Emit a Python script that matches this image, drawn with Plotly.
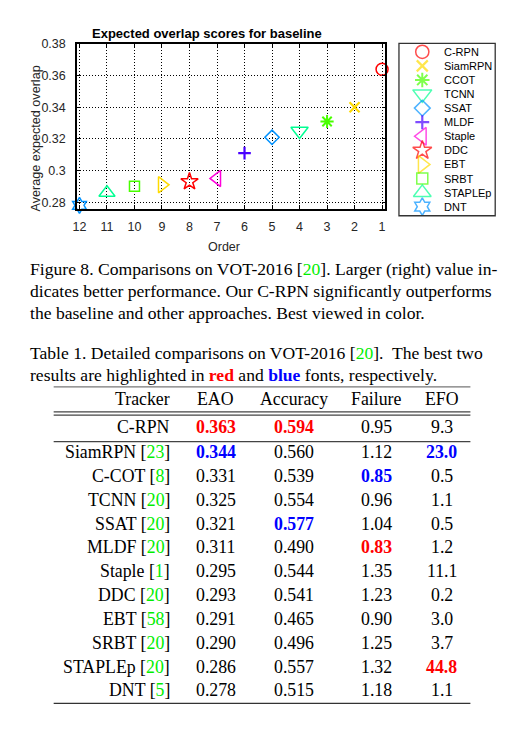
import plotly.graph_objects as go

# the page puts the figure 8px in from the top-left corner of the window
OFF = 8
WIN_W, WIN_H = 522, 731
W, H = WIN_W - OFF, WIN_H - OFF

# ---- data ----
legend_names = ['C-RPN', 'SiamRPN', 'CCOT', 'TCNN', 'SSAT', 'MLDF', 'Staple',
                'DDC', 'EBT', 'SRBT', 'STAPLEp', 'DNT']
order = [1, 2, 3, 4, 5, 6, 7, 8, 9, 10, 11, 12]
chart_eao = [0.364, 0.340, 0.331, 0.325, 0.321, 0.311, 0.295, 0.293, 0.291,
             0.290, 0.286, 0.278]

trackers = ['C-RPN', 'SiamRPN', 'C-COT', 'TCNN', 'SSAT', 'MLDF', 'Staple',
            'DDC', 'EBT', 'SRBT', 'STAPLEp', 'DNT']
refs = ['', '23', '8', '20', '20', '20', '1', '20', '58', '20', '20', '5']
eao = ['0.363', '0.344', '0.331', '0.325', '0.321', '0.311', '0.295', '0.293',
       '0.291', '0.290', '0.286', '0.278']
accuracy = ['0.594', '0.560', '0.539', '0.554', '0.577', '0.490', '0.544',
            '0.541', '0.465', '0.496', '0.557', '0.515']
failure = ['0.95', '1.12', '0.85', '0.96', '1.04', '0.83', '1.35', '1.23',
           '0.90', '1.25', '1.32', '1.18']
efo = ['9.3', '23.0', '0.5', '1.1', '0.5', '1.2', '11.1', '0.2', '3.0', '3.7',
       '44.8', '1.1']
# best (1 = red) / second best (2 = blue) per column
eao_rank = [1, 2, 0, 0, 0, 0, 0, 0, 0, 0, 0, 0]
acc_rank = [1, 0, 0, 0, 2, 0, 0, 0, 0, 0, 0, 0]
fail_rank = [0, 0, 2, 0, 0, 1, 0, 0, 0, 0, 0, 0]
efo_rank = [0, 2, 0, 0, 0, 0, 0, 0, 0, 0, 1, 0]
headers = ['Tracker', 'EAO', 'Accuracy', 'Failure', 'EFO']

# ---- style ----
colors = ['#ff0000', '#ffdb00', '#49ff00', '#00ff92', '#0092ff', '#4900ff',
          '#ff00db', '#ff0000', '#ffdb00', '#49ff00', '#00ff92', '#0092ff']
symbols = ['circle-open', 'x-thin-open', 'asterisk-open', 'triangle-down-open',
           'diamond-open', 'cross-thin-open', 'triangle-left-open', 'star-open',
           'triangle-right-open', 'square-open', 'triangle-up-open',
           'hexagram-open']
sizes = [12, 10, 11, 15, 11, 9, 14, 13, 14, 10, 14, 12]
widths = [1.5, 2.2, 2, 1.5, 1.5, 2.2, 1.5, 1.5, 1.5, 1.5, 1.5, 1.5]

SANS = 'Liberation Sans'
SERIF = 'Liberation Serif'
CAP = 17.6   # caption text
TXT = 17.8   # table text
GREEN = '#00ee00'
RANK_COLOR = {1: '#ff0000', 2: '#0000ff'}


def dom_x(a, b):
    return [(a - OFF) / W, (b - OFF) / W]


def dom_y(top, bottom):
    return [1 - (bottom - OFF) / H, 1 - (top - OFF) / H]


fig = go.Figure()

# main chart
for i in range(len(order)):
    fig.add_trace(go.Scatter(
        x=[order[i]], y=[chart_eao[i]], mode='markers', cliponaxis=False,
        marker=dict(symbol=symbols[i], size=sizes[i], color=colors[i],
                    line=dict(color=colors[i], width=widths[i])),
        showlegend=False))

# hand-made legend on the window-pixel overlay axes
leg_y = [45.2 + 14.24 * i for i in range(len(legend_names))]
fig.add_trace(go.Scatter(
    x=[421.5] * len(legend_names), y=leg_y, mode='markers', xaxis='x2', yaxis='y2',
    cliponaxis=False,
    marker=dict(symbol=symbols, size=[s * 1.1 for s in sizes], color=colors,
                line=dict(color=colors, width=widths)),
    showlegend=False))

ann = []
for i, name in enumerate(legend_names):
    ann.append(dict(x=441, y=leg_y[i], text=name, xref='x2', yref='y2',
                    xanchor='left', yanchor='middle', showarrow=False,
                    font=dict(family=SANS, size=11, color='black')))

# chart labels
ann.append(dict(x=204.5, y=27, text='<b>Expected overlap scores for baseline</b>',
                xref='x2', yref='y2', showarrow=False, xanchor='center',
                yanchor='middle', font=dict(family=SANS, size=13, color='black')))
ann.append(dict(x=221.5, y=243, text='Order', xref='x2', yref='y2',
                showarrow=False, xanchor='center', yanchor='middle',
                font=dict(family=SANS, size=12.5, color='#262626')))
ann.append(dict(x=32, y=133, text='Average expected overlap', xref='x2', yref='y2',
                showarrow=False, textangle=-90, xanchor='center', yanchor='middle',
                font=dict(family=SANS, size=12.6, color='#262626')))


# captions
def cite(n):
    return "[<span style='color:%s'>%s</span>]" % (GREEN, n)


caption_lines = [
    'Figure 8. Comparisons on VOT-2016 %s. Larger (right) value in-' % cite(20),
    'dicates better performance. Our C-RPN significantly outperforms',
    'the baseline and other approaches. Best viewed in color.',
]
caption_y = [265, 287, 309]
for t, y in zip(caption_lines, caption_y):
    ann.append(dict(x=24, y=y, text=t, xref='x2', yref='y2', showarrow=False,
                    xanchor='left', yanchor='middle',
                    font=dict(family=SERIF, size=CAP, color='black')))

table_caption = [
    'Table 1. Detailed comparisons on VOT-2016 %s.\u00a0 The best two' % cite(20),
    "results are highlighted in <b><span style='color:#ff0000'>red</span></b> and "
    "<b><span style='color:#0000ff'>blue</span></b> fonts, respectively.",
]
for t, y in zip(table_caption, [349.5, 372]):
    ann.append(dict(x=24, y=y, text=t, xref='x2', yref='y2', showarrow=False,
                    xanchor='left', yanchor='middle',
                    font=dict(family=SERIF, size=CAP, color='black')))

# table
col_x = [169.5, 213.3, 292.3, 375, 441]
header_y = 396
row_y = [425] + [450 + 24.1 * (i - 1) for i in range(1, len(trackers))]

for j, h in enumerate(headers):
    ann.append(dict(x=col_x[j], y=header_y, text=h, xref='x2', yref='y2',
                    showarrow=False, xanchor='right' if j == 0 else 'center',
                    yanchor='middle', font=dict(family=SERIF, size=TXT, color='black')))


def cell(v, r):
    if r:
        return "<b><span style='color:%s'>%s</span></b>" % (RANK_COLOR[r], v)
    return v


for i in range(len(trackers)):
    name = trackers[i] + (' ' + cite(refs[i]) if refs[i] else '')
    vals = [name, cell(eao[i], eao_rank[i]), cell(accuracy[i], acc_rank[i]),
            cell(failure[i], fail_rank[i]), cell(efo[i], efo_rank[i])]
    for j, v in enumerate(vals):
        ann.append(dict(x=col_x[j], y=row_y[i], text=v, xref='x2', yref='y2',
                        showarrow=False, xanchor='right' if j == 0 else 'center',
                        yanchor='middle',
                        font=dict(family=SERIF, size=TXT, color='black')))

shapes = [dict(type='rect', x0=398, x1=495, y0=36.7, y1=211, xref='x2', yref='y2',
               line=dict(color='#333333', width=1.3))]
for y, c in [(384, '#777777'), (409.3, '#444444'), (412.7, '#444444'),
             (439.3, '#444444'), (704, '#333333')]:
    shapes.append(dict(type='line', x0=50, x1=470, y0=y, y1=y, xref='x2',
                       yref='y2', line=dict(color=c, width=1.2)))

fig.update_layout(
    width=W, height=H, margin=dict(l=0, r=0, t=0, b=0),
    paper_bgcolor='white', plot_bgcolor='rgba(0,0,0,0)',
    showlegend=False, annotations=ann, shapes=shapes,
    xaxis=dict(domain=dom_x(73.5, 384.3), range=[12.09, 0.88],
               tickmode='array', tickvals=order, ticktext=[str(o) for o in order],
               showgrid=True, gridcolor='black', gridwidth=1, griddash='1px,2px',
               zeroline=False, showline=True, linecolor='black', linewidth=1.5,
               mirror='ticks', ticks='inside', ticklen=4, tickcolor='black',
               ticklabelstandoff=5,
               tickfont=dict(family=SANS, size=12.5, color='#262626')),
    yaxis=dict(domain=dom_y(37.3, 204), range=[0.2758, 0.38],
               tick0=0.28, dtick=0.02, tickformat='.2~f',
               showgrid=True, gridcolor='black', gridwidth=1, griddash='1px,2px',
               zeroline=False, showline=True, linecolor='black', linewidth=1.5,
               mirror='ticks', ticks='inside', ticklen=4, tickcolor='black',
               ticklabelstandoff=7,
               tickfont=dict(family=SANS, size=12.5, color='#262626')),
    xaxis2=dict(domain=[0, 1], range=[OFF, WIN_W], visible=False, anchor='y2'),
    yaxis2=dict(domain=[0, 1], range=[WIN_H, OFF], visible=False, anchor='x2'),
)

fig.write_html('out.html')
